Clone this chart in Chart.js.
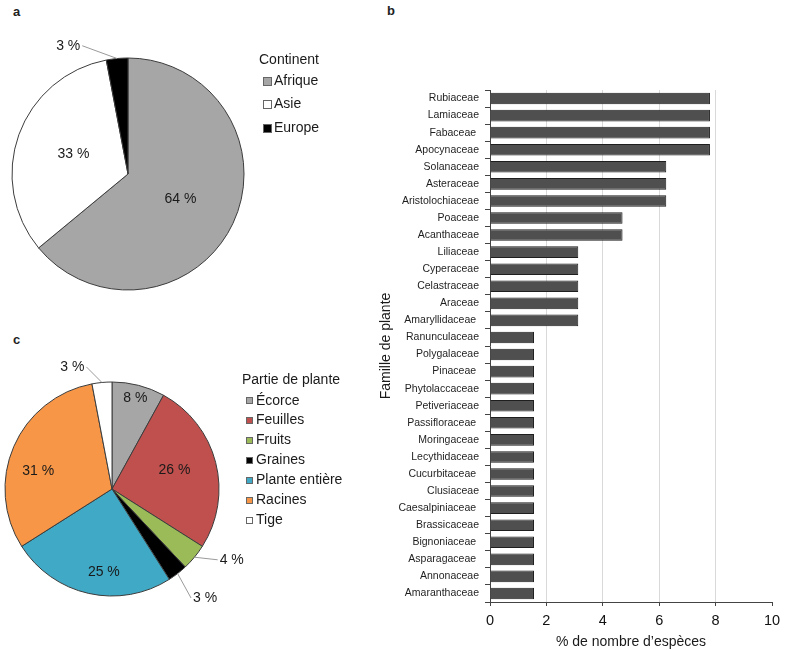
<!DOCTYPE html>
<html><head><meta charset="utf-8">
<script src="https://cdn.jsdelivr.net/npm/chart.js@4.4.1/dist/chart.umd.min.js"></script>
<style>
body{margin:0;background:#fff;width:787px;height:650px;position:relative;overflow:hidden;font-family:"Liberation Sans",Arial,sans-serif}
canvas{position:absolute}
.lab{position:absolute;font-weight:bold;font-size:13px;color:#222;line-height:1}
</style></head><body>
<div class="lab" style="left:13px;top:5px">a</div>
<div class="lab" style="left:387px;top:4px">b</div>
<div class="lab" style="left:13px;top:333px">c</div>
<canvas id="pa" style="left:0;top:0" width="380" height="300"></canvas>
<canvas id="pc" style="left:0;top:330px" width="380" height="300"></canvas>
<canvas id="bb" style="left:370px;top:0" width="417" height="650"></canvas>
<script>
// ---- data ----
const continents = ['Afrique', 'Asie', 'Europe'];
const continentShares = [64, 33, 3];
const plantParts = ['Écorce', 'Feuilles', 'Fruits', 'Graines', 'Plante entière', 'Racines', 'Tige'];
const plantPartShares = [8, 26, 4, 3, 25, 31, 3];
const families = ['Rubiaceae', 'Lamiaceae', 'Fabaceae ', 'Apocynaceae', 'Solanaceae', 'Asteraceae',
  'Aristolochiaceae', 'Poaceae', 'Acanthaceae', 'Liliaceae', 'Cyperaceae', 'Celastraceae', 'Araceae',
  'Amaryllidaceae ', 'Ranunculaceae', 'Polygalaceae', 'Pinaceae ', 'Phytolaccaceae', 'Petiveriaceae',
  'Passifloraceae ', 'Moringaceae', 'Lecythidaceae', 'Cucurbitaceae ', 'Clusiaceae', 'Caesalpiniaceae ',
  'Brassicaceae', 'Bignoniaceae ', 'Asparagaceae ', 'Annonaceae', 'Amaranthaceae'];
const familyPercents = [7.8, 7.8, 7.8, 7.8, 6.25, 6.25, 6.25, 4.7, 4.7, 3.13, 3.13, 3.13, 3.13, 3.13,
  1.56, 1.56, 1.56, 1.56, 1.56, 1.56, 1.56, 1.56, 1.56, 1.56, 1.56, 1.56, 1.56, 1.56, 1.56, 1.56];
const xTicks = [0, 2, 4, 6, 8, 10];

// ---- styles ----
const continentColors = ['#a6a6a6', '#ffffff', '#000000'];
const partColors = ['#a6a6a6', '#c0504d', '#9bbb59', '#000000', '#3fa9c6', '#f79646', '#ffffff'];
const FONT = '"Liberation Sans", Arial, sans-serif';

const sliceLabels = {
  id: 'sliceLabels',
  afterDatasetsDraw(chart, args, o) {
    const ctx = chart.ctx;
    const meta = chart.getDatasetMeta(0);
    const data = chart.data.datasets[0].data;
    ctx.save();
    ctx.font = o.font; ctx.textAlign = 'center'; ctx.textBaseline = 'middle';
    meta.data.forEach((arc, i) => {
      const p = arc.getProps(['x', 'y', 'startAngle', 'endAngle', 'outerRadius'], true);
      const mid = (p.startAngle + p.endAngle) / 2;
      const f = o.radius[i], a = mid + (o.shift[i] || 0) * Math.PI / 180;
      const lx = p.x + Math.cos(a) * p.outerRadius * f;
      const ly = p.y + Math.sin(a) * p.outerRadius * f;
      const text = data[i] + ' %';
      if (f > 1) {
        const w = ctx.measureText(text).width;
        const ex = p.x + Math.cos(mid) * p.outerRadius, ey = p.y + Math.sin(mid) * p.outerRadius;
        const tx = lx < ex ? lx + w / 2 + 2 : lx - w / 2 - 2;
        ctx.strokeStyle = o.lineColor; ctx.lineWidth = 1;
        ctx.beginPath(); ctx.moveTo(ex, ey); ctx.lineTo(tx, ly); ctx.stroke();
      }
      ctx.fillStyle = o.color;
      ctx.fillText(text, lx, ly);
    });
    ctx.restore();
  }
};

const boxLegend = {
  id: 'boxLegend',
  afterDraw(chart, args, o) {
    const ctx = chart.ctx;
    const ds = chart.data.datasets[0];
    ctx.save();
    ctx.font = o.font; ctx.textBaseline = 'middle'; ctx.textAlign = 'left';
    ctx.fillStyle = o.color;
    ctx.fillText(o.title, o.x, o.titleY);
    chart.data.labels.forEach((lab, i) => {
      const y = o.firstY + i * o.step;
      const top = Math.round(y - o.box / 2);
      ctx.fillStyle = ds.backgroundColor[i];
      ctx.fillRect(o.boxX, top, o.box, o.box);
      ctx.strokeStyle = '#666'; ctx.lineWidth = 1;
      ctx.strokeRect(o.boxX + 0.5, top + 0.5, o.box - 1, o.box - 1);
      ctx.fillStyle = o.color;
      ctx.fillText(lab, o.textX, y);
    });
    ctx.restore();
  }
};

function pie(id, labels, values, colors, radius, pad, labelCfg, legendCfg) {
  new Chart(document.getElementById(id), {
    type: 'pie',
    data: { labels, datasets: [{ data: values, backgroundColor: colors, borderColor: '#3c3c3c', borderWidth: 1 }] },
    options: {
      responsive: false, animation: false, radius,
      layout: { padding: pad },
      plugins: { legend: { display: false }, tooltip: { enabled: false },
        sliceLabels: labelCfg, boxLegend: legendCfg }
    },
    plugins: [sliceLabels, boxLegend]
  });
}

pie('pa', continents, continentShares, continentColors, 116,
  { left: 12, top: 58, right: 136, bottom: 10 },
  { font: '14px ' + FONT, color: '#1a1a1a', lineColor: '#9a9a9a', radius: [0.5, 0.5, 1.22], shift: [0, 0, -19.6] },
  { font: '14px ' + FONT, color: '#1a1a1a', title: 'Continent', x: 259, titleY: 60, boxX: 263, box: 9, textX: 274, firstY: 81, step: 23.5 });

pie('pc', plantParts, plantPartShares, partColors, 107,
  { left: 5, top: 52, right: 161, bottom: 34 },
  { font: '14px ' + FONT, color: '#1a1a1a', lineColor: '#9a9a9a',
    radius: [0.88, 0.61, 1.3, 1.34, 0.78, 0.71, 1.2], shift: [0, -2.6, -9, -2.7, -7, -9.8, -12.6] },
  { font: '14px ' + FONT, color: '#1a1a1a', title: 'Partie de plante', x: 242, titleY: 50, boxX: 246, box: 7, textX: 256, firstY: 70.7, step: 19.9 });

new Chart(document.getElementById('bb'), {
  type: 'bar',
  data: { labels: families, datasets: [{ data: familyPercents, backgroundColor: '#4f4f4f', borderColor: '#1e1e1e', borderWidth: 1,
    barPercentage: 0.68, categoryPercentage: 1 }] },
  options: {
    indexAxis: 'y', responsive: false, animation: false,
    layout: { padding: { top: 90, right: 15, bottom: 0, left: 0 } },
    plugins: { legend: { display: false }, tooltip: { enabled: false } },
    scales: {
      x: {
        min: 0, max: 10,
        afterFit: s => { s.height = 48; },
        afterBuildTicks: s => { s.ticks = xTicks.map(v => ({ value: v })); },
        grid: { color: c => (c.tick && (c.tick.value === 10 || c.tick.value === 0)) ? 'rgba(0,0,0,0)' : '#d9d9d9',
          tickColor: '#444', tickLength: 4, lineWidth: 1 },
        border: { color: '#444', width: 1 },
        ticks: { font: { family: FONT, size: 14.5 }, color: '#111', padding: 6, maxRotation: 0 },
        title: { display: true, text: '% de nombre d’espèces', font: { family: FONT, size: 14 }, color: '#1a1a1a', padding: { top: 0, bottom: -1 } }
      },
      y: {
        afterFit: s => { s.width = 120; },
        grid: { drawOnChartArea: false, drawTicks: true, tickLength: 5, tickColor: '#444' },
        border: { color: '#444', width: 1 },
        ticks: { autoSkip: false, font: { family: FONT, size: 10.5 }, color: '#1e1e1e', padding: 6 },
        title: { display: true, text: 'Famille de plante', font: { family: FONT, size: 14 }, color: '#1a1a1a', padding: { top: 8, bottom: 0 } }
      }
    }
  }
});
</script>
</body></html>
